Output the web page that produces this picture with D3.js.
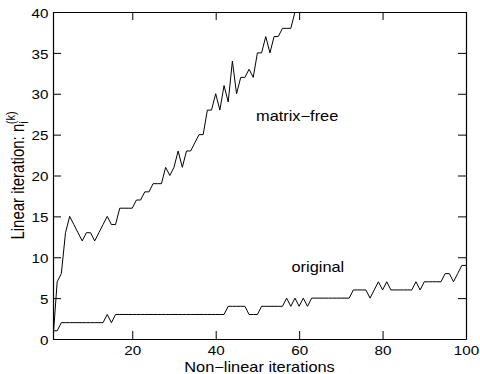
<!DOCTYPE html>
<html>
<head>
<meta charset="utf-8">
<script src="https://cdn.jsdelivr.net/npm/d3@7"></script>
<style>
  html, body { margin: 0; padding: 0; background: #fff; }
  svg { display: block; }
  text { font-family: "Liberation Sans", Arial, Helvetica, sans-serif; fill: #000; }
</style>
</head>
<body>
<svg id="chart" width="480" height="374"></svg>
<script>
// ---- data ----
const matrixFree = [0, 7, 8, 13, 15, 14, 13, 12, 13, 13,
                    12, 13, 14, 15, 14, 14, 16, 16, 16, 16,
                    17, 17, 18, 18, 19, 19, 19, 21, 20, 21,
                    23, 21, 23, 23, 24, 25, 25, 28, 28, 30,
                    28, 31, 29, 34, 30, 32, 32, 33, 32, 35,
                    35, 37, 35, 37, 37, 38, 38, 38, 40, 42];
const original = [1, 1, 2, 2, 2, 2, 2, 2, 2, 2,
                  2, 2, 2, 3, 2, 3, 3, 3, 3, 3,
                  3, 3, 3, 3, 3, 3, 3, 3, 3, 3,
                  3, 3, 3, 3, 3, 3, 3, 3, 3, 3,
                  3, 3, 4, 4, 4, 4, 4, 3, 3, 3,
                  4, 4, 4, 4, 4, 4, 5, 4, 5, 4,
                  5, 4, 5, 5, 5, 5, 5, 5, 5, 5,
                  5, 5, 6, 6, 6, 6, 5, 6, 7, 6,
                  7, 6, 6, 6, 6, 6, 6, 7, 6, 7,
                  7, 7, 7, 7, 8, 8, 7, 8, 9, 9];
const xTicks = [20, 40, 60, 80, 100];
const yTicks = [0, 5, 10, 15, 20, 25, 30, 35, 40];
const xLabel = "Non\u2212linear iterations";
const seriesLabels = ["matrix\u2212free", "original"];

// ---- layout ----
const L = 53, R = 466, T = 12, B = 339;
const SX = 1.17; // horizontal stretch of text
const svg = d3.select("#chart");

const x = d3.scaleLinear().domain([1, 100]).range([L, R]);
const y = d3.scaleLinear().domain([0, 40]).range([B, T]);

svg.append("defs").append("clipPath").attr("id", "clip")
  .append("rect").attr("x", L).attr("y", T).attr("width", R - L).attr("height", B - T);

// lines
const line = d3.line().x((d, i) => x(i + 1)).y(d => y(d));
const g = svg.append("g").attr("clip-path", "url(#clip)");
[matrixFree, original].forEach(s => {
  g.append("path").datum(s).attr("d", line)
    .attr("fill", "none").attr("stroke", "#000").attr("stroke-width", 1)
    .attr("stroke-linejoin", "miter");
});

// axes
function styleAxis(sel) {
  sel.selectAll("path.domain").attr("stroke", "#000").attr("stroke-width", 1.2);
  sel.selectAll(".tick line").attr("stroke", "#000").attr("stroke-width", 1);
  sel.selectAll("text").style("font-size", "13px").attr("fill", "#000");
}
const gb = svg.append("g").attr("transform", `translate(0,${B})`)
  .call(d3.axisBottom(x).tickValues(xTicks).tickSizeInner(-8).tickSizeOuter(0).tickPadding(6.5));
styleAxis(gb);
gb.selectAll("text").attr("transform", `scale(${SX},1)`);

const gt = svg.append("g").attr("transform", `translate(0,${T})`)
  .call(d3.axisTop(x).tickValues(xTicks).tickSizeInner(-8).tickSizeOuter(0).tickFormat(""));
styleAxis(gt);

const gl = svg.append("g").attr("transform", `translate(${L},0)`)
  .call(d3.axisLeft(y).tickValues(yTicks).tickSizeInner(-8).tickSizeOuter(0).tickPadding(4));
styleAxis(gl);
gl.selectAll("text").attr("transform", `scale(${SX},1)`).attr("dy", "0.4em");

const gr = svg.append("g").attr("transform", `translate(${R},0)`)
  .call(d3.axisRight(y).tickValues(yTicks).tickSizeInner(-8).tickSizeOuter(0).tickFormat(""));
styleAxis(gr);

// x label
svg.append("text")
  .attr("transform", `translate(${(L + R) / 2},371.5) scale(${SX},1)`)
  .attr("text-anchor", "middle").style("font-size", "14px")
  .text(xLabel);

// y label
const yl = svg.append("text")
  .attr("transform", `translate(24,${(T + B) / 2}) rotate(-90) scale(1,${SX})`)
  .attr("text-anchor", "middle").style("font-size", "15px");
yl.append("tspan").text("Linear iteration: n");
yl.append("tspan").attr("dy", "3").style("font-size", "11px").text("i");
yl.append("tspan").attr("dx", "-3").attr("dy", "-11").style("font-size", "11px").text("(k)");

// series labels
svg.append("text")
  .attr("transform", `translate(256,120.5) scale(${SX},1)`)
  .style("font-size", "14px").text(seriesLabels[0]);
svg.append("text")
  .attr("transform", `translate(291.5,271.5) scale(${SX},1)`)
  .style("font-size", "14px").text(seriesLabels[1]);
</script>
</body>
</html>
